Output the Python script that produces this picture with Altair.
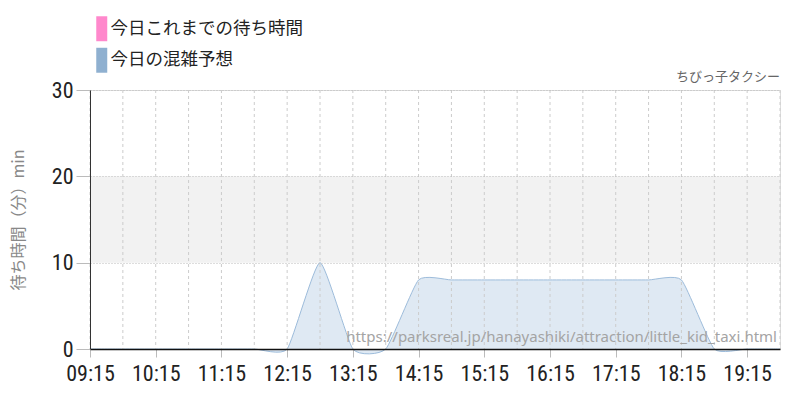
import altair as alt
import pandas as pd

# ---- data ----
times = ["09:15", "09:45", "10:15", "10:45", "11:15", "11:45", "12:15", "12:45",
         "13:15", "13:45", "14:15", "14:45", "15:15", "15:45", "16:15", "16:45",
         "17:15", "17:45", "18:15", "18:45", "19:15", "19:45"]
forecast = [0, 0, 0, 0, 0, 0, 0, 10, 0, 0, 8, 8, 8, 8, 8, 8, 8, 8, 8, 0, 0, 0]
tick_labels = ["09:15", "10:15", "11:15", "12:15", "13:15", "14:15", "15:15",
               "16:15", "17:15", "18:15", "19:15"]
y_ticks = [0, 10, 20, 30]
band_lo = [10]
band_hi = [20]
legend_names = ["今日これまでの待ち時間", "今日の混雑予想"]
legend_colors = ["#ff88cc", "#8fb0d0"]
title_text = ["ちびっ子タクシー"]
y_title = "待ち時間（分）min"
watermark = ["https://parksreal.jp/hanayashiki/attraction/little_kid_taxi.html"]

DAY = "2024-01-01T"
JP = "Noto Sans CJK JP"
NARROW = "Roboto Condensed, Liberation Sans Narrow, Roboto, sans-serif"


def dt(s):
    h, m = map(int, s.split(":"))
    return alt.DateTime(year=2024, month=1, date=1, hours=h, minutes=m)


df = pd.DataFrame({"t": [DAY + t for t in times], "v": forecast})
df_band = pd.DataFrame({"lo": band_lo, "hi": band_hi})
df_leg = pd.DataFrame({"series": legend_names})
df_wm = pd.DataFrame({"url": watermark})
df_title = pd.DataFrame({"name": title_text})

xscale = alt.Scale(domain=[dt(times[0]), dt(times[-1])], nice=False)
yscale = alt.Scale(domain=[0, 30], nice=False, zero=False)

yaxis = alt.Axis(values=y_ticks, title=y_title, grid=True, gridColor="#bbbbbb",
                 gridDash=[1, 2], gridWidth=1, tickColor="#bbbbbb", tickSize=14,
                 labelFont=NARROW, labelFontSize=22, labelColor="#222222",
                 labelPadding=3, domainColor="#333333", domainWidth=1,
                 titleFont=JP, titleFontSize=16, titleColor="#888888",
                 titleFontWeight="normal", titleX=-72, titleY=129.5,
                 titleAngle=270, titleAlign="center", titleBaseline="middle",
                 zindex=1)

xaxis = alt.Axis(values=[dt(t) for t in tick_labels], format="%H:%M", title=None,
                 grid=False, tickColor="#bbbbbb", tickSize=8, labelFont=NARROW,
                 labelFontSize=22, labelColor="#222222", labelPadding=6,
                 domainColor="#111111", domainWidth=1.6, labelFlush=False,
                 labelOverlap=False, zindex=1)

band = alt.Chart(df_band).mark_rect(color="#f2f2f2").encode(
    y=alt.Y("lo:Q", scale=yscale, axis=yaxis), y2="hi:Q")

area = alt.Chart(df).mark_area(
    interpolate="cardinal", tension=0.5, color="#dfe9f3", opacity=1,
    line={"color": "#9dbcdb", "strokeWidth": 1}
).encode(
    x=alt.X("t:T", scale=xscale, axis=xaxis),
    y=alt.Y("v:Q", scale=yscale, axis=yaxis),
)

grid = alt.Chart(df).mark_rule(color="#cccccc", strokeDash=[3, 3], strokeWidth=1).encode(
    x=alt.X("t:T", scale=xscale, axis=xaxis))

leg = alt.Chart(df_leg).mark_point(filled=True, opacity=0).encode(
    color=alt.Color("series:N",
                    scale=alt.Scale(domain=legend_names, range=legend_colors),
                    legend=alt.Legend(title=None, orient="none", legendX=3, legendY=-70,
                                      direction="vertical", padding=0,
                                      symbolType="M-1,-2.27H1V2.27H-1Z",
                                      symbolSize=121, symbolOpacity=1,
                                      symbolStrokeWidth=0, labelFont=JP,
                                      labelFontSize=17.5, labelColor="#222222",
                                      labelLimit=400, labelOffset=0, rowPadding=5.5)))

wm = alt.Chart(df_wm).mark_text(align="right", baseline="alphabetic", font="Noto Sans",
                                fontSize=15, color="#a4a4a4").encode(
    text="url:N", x=alt.value(687), y=alt.value(252))

ttl = alt.Chart(df_title).mark_text(align="right", baseline="alphabetic", font=JP,
                                    fontSize=13, color="#666666").encode(
    text="name:N", x=alt.value(690), y=alt.value(-9))

chart = alt.layer(band, area, grid, leg, wm, ttl).properties(
    width=690, height=259,
    autosize=alt.AutoSizeParams(type="none"),
    padding={"left": 82, "top": 82, "right": 12, "bottom": 43},
).configure_view(stroke=None).configure(background="white")

chart.save("out.html", embed_options={"renderer": "svg", "actions": False})
